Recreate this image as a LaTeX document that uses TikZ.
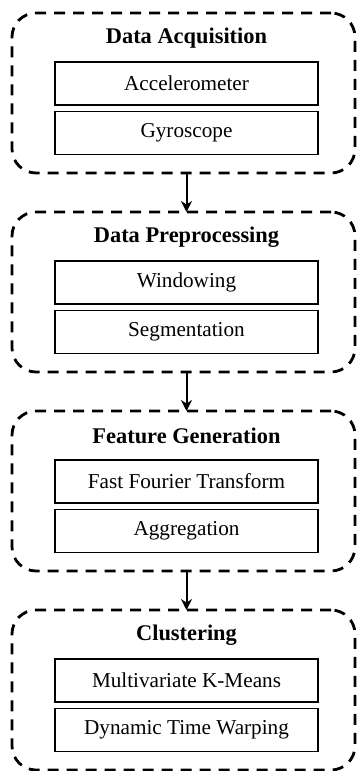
\documentclass[tikz,border=0pt]{standalone}
\usepackage{fontspec}
\setmainfont{Liberation Serif}
\usetikzlibrary{arrows.meta,positioning}
\tikzset{>=Stealth}

\begin{document}
\begin{tikzpicture}[
    stage/.style={draw, dash pattern=on 5.5pt off 4pt, line width=1.4pt, rounded corners=12pt, minimum width=171.5pt, minimum height=80pt, outer sep=0pt},
    title/.style={font=\fontsize{11.2}{13}\selectfont\bfseries},
    item/.style={draw, line width=0.8pt, minimum width=131.5pt, minimum height=21.5pt, font=\fontsize{10.6}{12}\selectfont},
    arr/.style={->, line width=1pt, >={Stealth[length=5.5pt,width=5.5pt]}},
    node distance=19.5pt
  ]
    \useasboundingbox (0,0) rectangle (179pt,-385.5pt);

    % dashed stage frames
    \node[stage, anchor=north] (acq) at (91.75pt,-6.5pt) {};
    \node[stage, below=of acq]  (prep) {};
    \node[stage, below=of prep] (feat) {};
    \node[stage, below=of feat] (clus) {};

    % Data Acquisition
    \node[title] (acqtitle) at ([xshift=1.5pt,yshift=-12.5pt]acq.north) {Data Acquisition};
    \node[item] (accel) at ([xshift=1.5pt,yshift=-35.25pt]acq.north) {Accelerometer};
    \node[item, below=2.5pt of accel] (gyro) {Gyroscope};

    % Data Preprocessing
    \node[title] (preptitle) at ([xshift=1.5pt,yshift=-12.5pt]prep.north) {Data Preprocessing};
    \node[item] (window) at ([xshift=1.5pt,yshift=-35.25pt]prep.north) {Windowing};
    \node[item, below=2.5pt of window] (segment) {Segmentation};

    % Feature Generation
    \node[title] (feattitle) at ([xshift=1.5pt,yshift=-12.5pt]feat.north) {Feature Generation};
    \node[item] (fft) at ([xshift=1.5pt,yshift=-35.25pt]feat.north) {Fast Fourier Transform};
    \node[item, below=2.5pt of fft] (aggr) {Aggregation};

    % Clustering
    \node[title] (clustitle) at ([xshift=1.5pt,yshift=-12.5pt]clus.north) {Clustering};
    \node[item] (kmeans) at ([xshift=1.5pt,yshift=-35.25pt]clus.north) {Multivariate K-Means};
    \node[item, below=2.5pt of kmeans] (dtw) {Dynamic Time Warping};

    \draw[arr] (acq.south -| gyro)     -- (prep.north -| window);
    \draw[arr] (prep.south -| segment) -- (feat.north -| fft);
    \draw[arr] (feat.south -| aggr)    -- (clus.north -| kmeans);
  \end{tikzpicture}
\end{document}
